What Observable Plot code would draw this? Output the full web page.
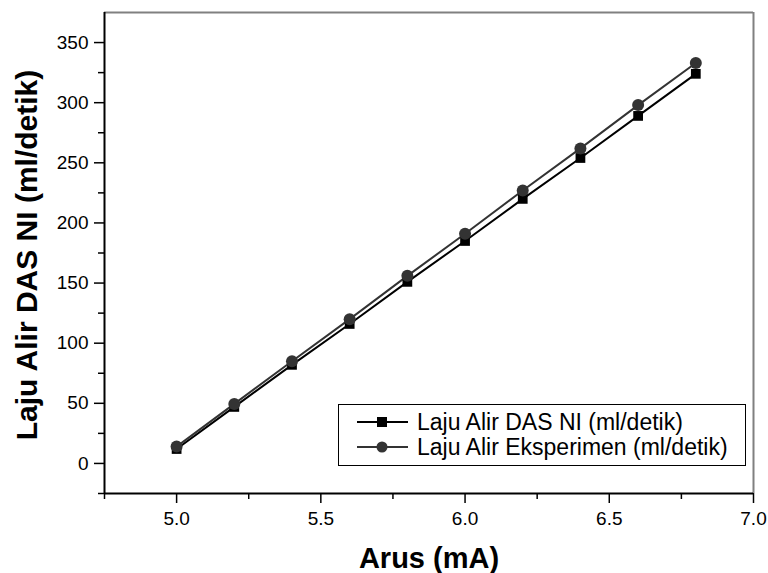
<!DOCTYPE html>
<html>
<head>
<meta charset="utf-8">
<script src="https://cdn.jsdelivr.net/npm/d3@7"></script>
<script src="https://cdn.jsdelivr.net/npm/@observablehq/plot@0.6"></script>
<style>
  html, body { margin: 0; padding: 0; background: #fff; }
  #chart svg { font-family: "Liberation Sans", Arial, sans-serif; }
  #chart svg g[aria-label$="tick label"] text { font-size: 19px; fill: #000; }
</style>
</head>
<body>
<div id="chart"></div>
<script>
const arus = [5.0, 5.2, 5.4, 5.6, 5.8, 6.0, 6.2, 6.4, 6.6, 6.8];
const lajuDasNi = [12, 47, 82, 116, 151, 185, 220, 254, 289, 324];
const lajuEksperimen = [14, 49.5, 85, 120, 156, 191, 227, 262, 298, 333];
const seriesNames = ["Laju Alir DAS NI (ml/detik)", "Laju Alir Eksperimen (ml/detik)"];
const xMajor = [5.0, 5.5, 6.0, 6.5, 7.0];
const xMinor = [4.75, 5.25, 5.75, 6.25, 6.75];
const yMajor = [0, 50, 100, 150, 200, 250, 300, 350];
const yMinor = [-25, 25, 75, 125, 175, 225, 275, 325];
const xTitle = "Arus (mA)";
const yTitle = "Laju Alir DAS NI (ml/detik)";

const das = arus.map((x, i) => ({x, y: lajuDasNi[i]}));
const eks = arus.map((x, i) => ({x, y: lajuEksperimen[i]}));

const W = 768, H = 573;
const mL = 104, mR = 15, mT = 12, mB = 80;

const plot = Plot.plot({
  width: W, height: H,
  marginLeft: mL, marginRight: mR, marginTop: mT, marginBottom: mB,
  style: {fontFamily: '"Liberation Sans", Arial, sans-serif', background: "#fff"},
  x: {domain: [4.75, 7.0]},
  y: {domain: [-25, 375]},
  marks: [
    Plot.ruleY([375], {stroke: "#808080", strokeWidth: 2}),
    Plot.ruleX([7.0], {stroke: "#808080", strokeWidth: 2}),
    Plot.line(das, {x: "x", y: "y", stroke: "#000", strokeWidth: 2}),
    Plot.line(eks, {x: "x", y: "y", stroke: "#333", strokeWidth: 2}),
    Plot.dot(das, {x: "x", y: "y", symbol: "square", fill: "#000", r: 5.5}),
    Plot.dot(eks, {x: "x", y: "y", symbol: "circle", fill: "#333", r: 6}),
    Plot.ruleY([-25], {stroke: "#000", strokeWidth: 2}),
    Plot.ruleX([4.75], {stroke: "#000", strokeWidth: 2}),
    Plot.axisX(xMajor, {tickSize: 10, tickPadding: 8, tickFormat: d3.format(".1f"), fontSize: 19, fill: "#000", stroke: "#000", strokeWidth: 1.5, label: null}),
    Plot.axisX(xMinor, {tickSize: 6, tickFormat: () => "", stroke: "#000", strokeWidth: 1.5, label: null}),
    Plot.axisY(yMajor, {tickSize: 10, tickPadding: 6, tickFormat: d3.format("d"), fontSize: 19, fill: "#000", stroke: "#000", strokeWidth: 1.5, label: null}),
    Plot.axisY(yMinor, {tickSize: 6, tickFormat: () => "", stroke: "#000", strokeWidth: 1.5, label: null})
  ]
});
document.getElementById("chart").appendChild(plot);

const svg = d3.select(plot);
// axis titles
svg.append("text").attr("x", 429).attr("y", 568).attr("text-anchor", "middle")
  .attr("font-size", 29).attr("font-weight", "bold").attr("fill", "#000").text(xTitle);
svg.append("text").attr("transform", "translate(37,255) rotate(-90)").attr("text-anchor", "middle")
  .attr("font-size", 30).attr("font-weight", "bold").attr("fill", "#000").text(yTitle);

// legend
const lg = svg.append("g");
lg.append("rect").attr("x", 338.5).attr("y", 404.5).attr("width", 407).attr("height", 61)
  .attr("fill", "#fff").attr("stroke", "#000").attr("stroke-width", 1);
const rows = [
  {name: seriesNames[0], color: "#000", shape: "square"},
  {name: seriesNames[1], color: "#333", shape: "circle"}
];
rows.forEach((r, i) => {
  const cy = 422 + i * 25;
  lg.append("line").attr("x1", 357).attr("x2", 408).attr("y1", cy).attr("y2", cy)
    .attr("stroke", r.color).attr("stroke-width", 2);
  if (r.shape === "square") {
    lg.append("rect").attr("x", 377).attr("y", cy - 5).attr("width", 10).attr("height", 10).attr("fill", r.color);
  } else {
    lg.append("circle").attr("cx", 382).attr("cy", cy).attr("r", 5.5).attr("fill", r.color);
  }
  lg.append("text").attr("x", 417).attr("y", cy).attr("dy", "0.35em").attr("text-anchor", "start")
    .attr("font-size", 23).attr("fill", "#000").text(r.name);
});
</script>
</body>
</html>
